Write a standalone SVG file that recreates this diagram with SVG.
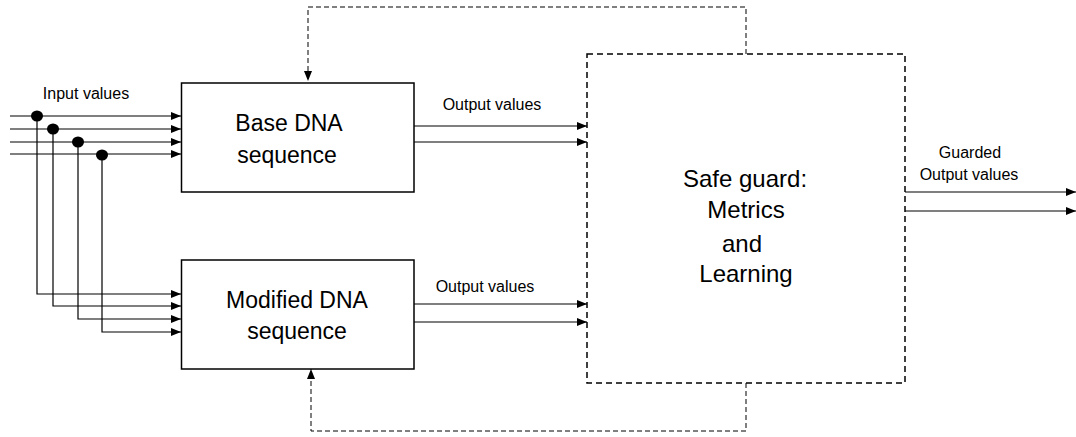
<svg xmlns="http://www.w3.org/2000/svg" width="1076" height="437" viewBox="0 0 1076 437">
  <style>
    .box { fill: #fff; stroke: #000; stroke-width: 1.5; }
    .guard { fill: #fff; stroke: #000; stroke-width: 1.5; stroke-dasharray: 6 4; }
    .ln { fill: none; stroke: #000; stroke-width: 1.2; }
    .fb { fill: none; stroke: #000; stroke-width: 1; stroke-dasharray: 5 3; }
    .lbl { font-family: "Liberation Sans", Arial, sans-serif; font-size: 16px; fill: #000; text-anchor: middle; }
    .big { font-family: "Liberation Sans", Arial, sans-serif; font-size: 23px; fill: #000; text-anchor: middle; }
    .huge { font-family: "Liberation Sans", Arial, sans-serif; font-size: 24px; fill: #000; text-anchor: middle; }
  </style>
  <defs>
    <marker id="arr" viewBox="0 0 10 8" refX="10" refY="4" markerWidth="10" markerHeight="8" markerUnits="userSpaceOnUse" orient="auto">
      <path d="M0,0 L10,4 L0,8 Z" fill="#000"/>
    </marker>
  </defs>

  <g id="connectors">
    <!-- input lines to base -->
    <line class="ln" x1="10" y1="116" x2="181" y2="116" marker-end="url(#arr)"/>
    <line class="ln" x1="10" y1="129" x2="181" y2="129" marker-end="url(#arr)"/>
    <line class="ln" x1="10" y1="142" x2="181" y2="142" marker-end="url(#arr)"/>
    <line class="ln" x1="10" y1="154" x2="181" y2="154" marker-end="url(#arr)"/>
    <!-- branches to modified -->
    <path class="ln" d="M37,116 V294 H181" marker-end="url(#arr)"/>
    <path class="ln" d="M53,129 V306 H181" marker-end="url(#arr)"/>
    <path class="ln" d="M78,142 V319 H181" marker-end="url(#arr)"/>
    <path class="ln" d="M102,154 V332 H181" marker-end="url(#arr)"/>
    <ellipse cx="37" cy="116" rx="6" ry="5.5" fill="#000"/>
    <ellipse cx="53" cy="129" rx="6" ry="5.5" fill="#000"/>
    <ellipse cx="78" cy="142" rx="6" ry="5.5" fill="#000"/>
    <ellipse cx="102" cy="155" rx="6" ry="5.5" fill="#000"/>
    <text class="lbl" x="86" y="99">Input values</text>

    <!-- outputs -->
    <line class="ln" x1="414" y1="126" x2="587" y2="126" marker-end="url(#arr)"/>
    <line class="ln" x1="414" y1="142" x2="587" y2="142" marker-end="url(#arr)"/>
    <text class="lbl" x="492" y="110">Output values</text>
    <line class="ln" x1="414" y1="304" x2="587" y2="304" marker-end="url(#arr)"/>
    <line class="ln" x1="414" y1="322" x2="587" y2="322" marker-end="url(#arr)"/>
    <text class="lbl" x="485" y="292">Output values</text>

    <!-- guarded outputs -->
    <line class="ln" x1="905" y1="192" x2="1076" y2="192" marker-end="url(#arr)"/>
    <line class="ln" x1="905" y1="211" x2="1076" y2="211" marker-end="url(#arr)"/>
    <text class="lbl" x="970" y="158">Guarded</text>
    <text class="lbl" x="969" y="180">Output values</text>

    <!-- feedback -->
    <path class="fb" d="M746,54 V7 H308 V81" marker-end="url(#arr)"/>
    <path class="fb" d="M746,383 V431 H311 V369" marker-end="url(#arr)"/>
  </g>

  <g id="base">
    <rect class="box" x="181.5" y="83" width="232.5" height="109"/>
    <text class="big" x="289" y="131">Base DNA</text>
    <text class="big" x="287" y="163">sequence</text>
  </g>

  <g id="modified">
    <rect class="box" x="181.5" y="260" width="232.5" height="109"/>
    <text class="big" x="297" y="308">Modified DNA</text>
    <text class="big" x="297" y="339">sequence</text>
  </g>

  <g id="safeguard">
    <rect class="guard" x="587" y="54" width="318" height="329"/>
    <text class="huge" x="745" y="187">Safe guard:</text>
    <text class="huge" x="746" y="218">Metrics</text>
    <text class="huge" x="742" y="252">and</text>
    <text class="huge" x="746" y="282">Learning</text>
  </g>
</svg>
